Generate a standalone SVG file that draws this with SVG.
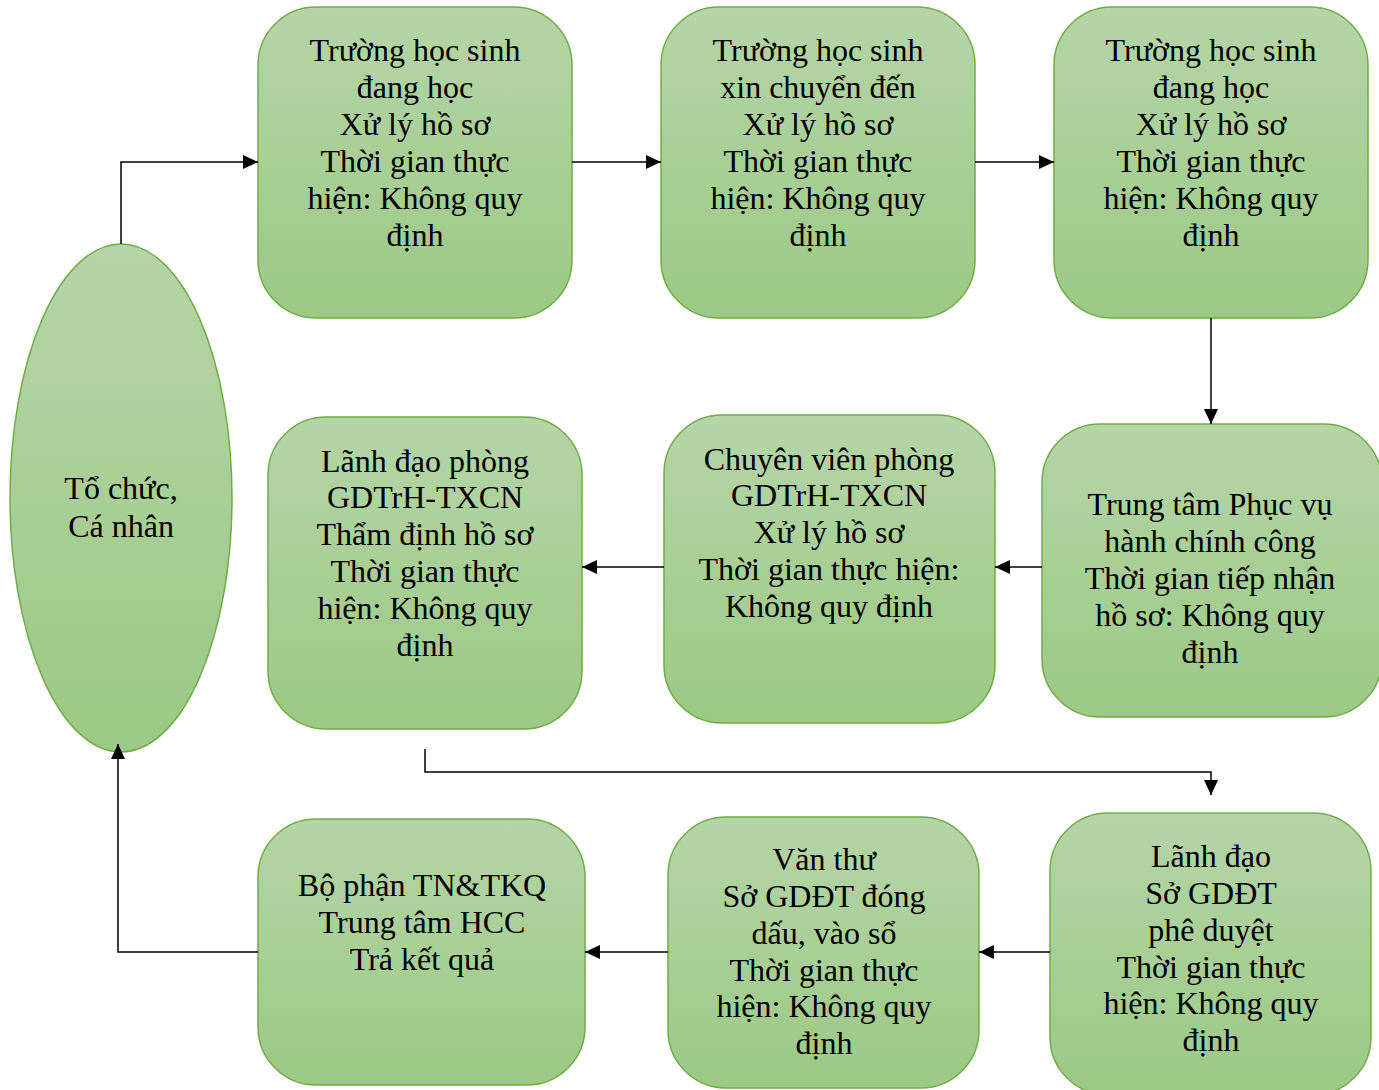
<svg xmlns="http://www.w3.org/2000/svg" width="1379" height="1090" viewBox="0 0 1379 1090">
<style>
.n{fill:url(#g);stroke:#70ad47;stroke-width:1.5}
.t{font-family:"Liberation Serif","Times New Roman",serif;font-size:32px;fill:#000;text-anchor:middle}
.c{fill:none;stroke:#000;stroke-width:1.5}
</style>
<defs>
<linearGradient id="g" x1="0" y1="0" x2="0" y2="1">
<stop offset="0" stop-color="#b5d5a7"/>
<stop offset="1" stop-color="#9cc985"/>
</linearGradient>
<marker id="a" markerUnits="userSpaceOnUse" markerWidth="15" markerHeight="14" viewBox="0 0 15 14" refX="15" refY="7" orient="auto">
<path d="M0,0 L15,7 L0,14 z" fill="#000"/>
</marker>
</defs>
<rect width="1379" height="1090" fill="#fff"/>
<g id="n0">
<ellipse class="n" cx="121" cy="498" rx="111" ry="254"/>
<text class="t"><tspan x="121" y="499">Tổ chức,</tspan><tspan x="121" y="537">Cá nhân</tspan></text>
</g>
<g id="n1">
<rect class="n" x="258" y="7" width="314" height="311" rx="58"/>
<text class="t"><tspan x="415" y="61">Trường học sinh</tspan><tspan x="415" y="98">đang học</tspan><tspan x="415" y="135">Xử lý hồ sơ</tspan><tspan x="415" y="172">Thời gian thực</tspan><tspan x="415" y="209">hiện: Không quy</tspan><tspan x="415" y="246">định</tspan></text>
</g>
<g id="n2">
<rect class="n" x="661" y="7" width="314" height="311" rx="58"/>
<text class="t"><tspan x="818" y="61">Trường học sinh</tspan><tspan x="818" y="98">xin chuyển đến</tspan><tspan x="818" y="135">Xử lý hồ sơ</tspan><tspan x="818" y="172">Thời gian thực</tspan><tspan x="818" y="209">hiện: Không quy</tspan><tspan x="818" y="246">định</tspan></text>
</g>
<g id="n3">
<rect class="n" x="1054" y="7" width="314" height="311" rx="58"/>
<text class="t"><tspan x="1211" y="61">Trường học sinh</tspan><tspan x="1211" y="98">đang học</tspan><tspan x="1211" y="135">Xử lý hồ sơ</tspan><tspan x="1211" y="172">Thời gian thực</tspan><tspan x="1211" y="209">hiện: Không quy</tspan><tspan x="1211" y="246">định</tspan></text>
</g>
<g id="n4">
<rect class="n" x="1042" y="424" width="340" height="293" rx="58"/>
<text class="t"><tspan x="1210" y="515">Trung tâm Phục vụ</tspan><tspan x="1210" y="552">hành chính công</tspan><tspan x="1210" y="589">Thời gian tiếp nhận</tspan><tspan x="1210" y="626">hồ sơ: Không quy</tspan><tspan x="1210" y="663">định</tspan></text>
</g>
<g id="n5">
<rect class="n" x="664" y="415" width="331" height="308" rx="58"/>
<text class="t"><tspan x="829" y="470">Chuyên viên phòng</tspan><tspan x="829" y="506">GDTrH-TXCN</tspan><tspan x="829" y="543">Xử lý hồ sơ</tspan><tspan x="829" y="580">Thời gian thực hiện:</tspan><tspan x="829" y="617">Không quy định</tspan></text>
</g>
<g id="n6">
<rect class="n" x="268" y="417" width="314" height="312" rx="58"/>
<text class="t"><tspan x="425" y="472">Lãnh đạo phòng</tspan><tspan x="425" y="508">GDTrH-TXCN</tspan><tspan x="425" y="545">Thẩm định hồ sơ</tspan><tspan x="425" y="582">Thời gian thực</tspan><tspan x="425" y="619">hiện: Không quy</tspan><tspan x="425" y="656">định</tspan></text>
</g>
<g id="n7">
<rect class="n" x="1050" y="813" width="321" height="282" rx="58"/>
<text class="t"><tspan x="1211" y="867">Lãnh đạo</tspan><tspan x="1211" y="904">Sở GDĐT</tspan><tspan x="1211" y="941">phê duyệt</tspan><tspan x="1211" y="978">Thời gian thực</tspan><tspan x="1211" y="1014">hiện: Không quy</tspan><tspan x="1211" y="1051">định</tspan></text>
</g>
<g id="n8">
<rect class="n" x="668" y="817" width="311" height="271" rx="58"/>
<text class="t"><tspan x="824" y="870">Văn thư</tspan><tspan x="824" y="907">Sở GDĐT đóng</tspan><tspan x="824" y="944">dấu, vào sổ</tspan><tspan x="824" y="981">Thời gian thực</tspan><tspan x="824" y="1017">hiện: Không quy</tspan><tspan x="824" y="1054">định</tspan></text>
</g>
<g id="n9">
<rect class="n" x="258" y="819" width="327" height="266" rx="58"/>
<text class="t"><tspan x="422" y="896">Bộ phận TN&amp;TKQ</tspan><tspan x="422" y="933">Trung tâm HCC</tspan><tspan x="422" y="970">Trả kết quả</tspan></text>
</g>
<g id="connectors">
<path class="c" d="M121,244 V162 H258" marker-end="url(#a)"/>
<path class="c" d="M572,162 H661" marker-end="url(#a)"/>
<path class="c" d="M975,162 H1054" marker-end="url(#a)"/>
<path class="c" d="M1211,318 V424" marker-end="url(#a)"/>
<path class="c" d="M1042,567 H995" marker-end="url(#a)"/>
<path class="c" d="M664,567 H582" marker-end="url(#a)"/>
<path class="c" d="M425,749 V772 H1211 V795" marker-end="url(#a)"/>
<path class="c" d="M1050,952 H979" marker-end="url(#a)"/>
<path class="c" d="M668,952 H585" marker-end="url(#a)"/>
<path class="c" d="M258,952 H118 V744" marker-end="url(#a)"/>
</g>
</svg>
